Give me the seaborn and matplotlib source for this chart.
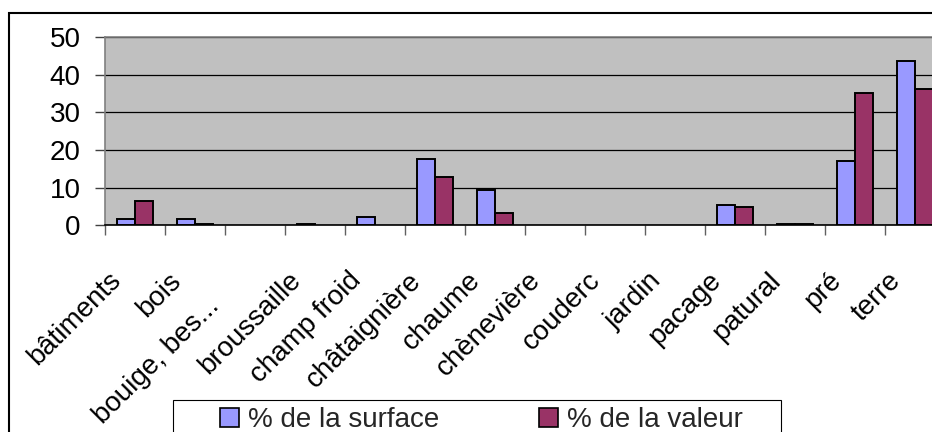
import matplotlib
matplotlib.use("Agg")
import matplotlib.pyplot as plt
import matplotlib.transforms as mtransforms
from matplotlib.patches import Patch, Rectangle
import pandas as pd
import seaborn as sns

categories = ["bâtiments", "bois", "bouige, bes...", "broussaille", "champ froid",
              "châtaignière", "chaume", "chènevière", "couderc", "jardin",
              "pacage", "patural", "pré", "terre"]
surface = [1.6, 1.6, 0.0, 0.4, 2.3, 17.5, 9.5, 0.0, 0.0, 0.0, 5.4, 0.4, 17.0, 43.5]
valeur = [6.5, 0.4, 0.0, 0.0, 0.0, 12.7, 3.3, 0.0, 0.0, 0.0, 4.8, 0.4, 35.0, 36.3]
series = ["% de la surface", "% de la valeur"]
colors = ["#9999FF", "#993366"]
y_ticks = [0, 10, 20, 30, 40, 50]

df = pd.DataFrame({
    "categorie": categories * 2,
    "pourcentage": surface + valeur,
    "serie": [series[0]] * len(categories) + [series[1]] * len(categories),
})

sns.set_theme(style="white")
plt.rcParams["font.family"] = ["Liberation Sans", "DejaVu Sans"]
FS = 20

W, H = 932, 432
fig = plt.figure(figsize=(W / 100, H / 100), dpi=100)
fig.patch.set_facecolor("white")

# plot area in pixel units, converted to figure fractions
left, top, bottom = 105, 37, 225.3
cat_w = 60
ax = fig.add_axes([left / W, 1 - bottom / H, cat_w * len(categories) / W, (bottom - top) / H])
ax.set_facecolor("#C0C0C0")

sns.barplot(data=df, x="categorie", y="pourcentage", hue="serie",
            order=categories, hue_order=series, palette=colors,
            width=0.6, edgecolor="black", linewidth=1.4, saturation=1,
            legend=False, ax=ax, zorder=3)

for p in ax.patches:
    if p.get_height() == 0:
        p.set_visible(False)

ax.set_xlim(-0.5, len(categories) - 0.5)
ax.set_ylim(0, 50)
ax.set_yticks(y_ticks)
ax.set_xlabel("")
ax.set_ylabel("")

# horizontal grid lines
ax.yaxis.grid(True, color="black", linewidth=0.9, zorder=1)
ax.set_axisbelow(True)

for side in ["top", "left", "right"]:
    ax.spines[side].set_color("#808080")
    ax.spines[side].set_linewidth(1.2)
ax.spines["bottom"].set_color("black")
ax.spines["bottom"].set_linewidth(1.2)

ax.tick_params(axis="y", direction="out", length=7.2, width=1, color="#404040",
               pad=10.5, labelsize=FS, labelcolor="black", left=True)

# category boundary ticks on the x axis
ax.set_xticks([i - 0.5 for i in range(len(categories) + 1)], minor=True)
ax.tick_params(axis="x", which="minor", direction="out", length=7.2, width=1,
               color="#606060", bottom=True)
ax.tick_params(axis="x", which="major", length=0, pad=37, labelsize=FS,
               labelcolor="black")
ax.set_xticks(range(len(categories)))
ax.set_xticklabels(categories)
for i, lab in enumerate(ax.get_xticklabels()):
    lab.set_rotation(45)
    lab.set_ha("right")
    lab.set_va("center")
    lab.set_rotation_mode("anchor")
    dx, dy = -18, 0
    if lab.get_text().startswith("bouige"):
        dx, dy = -40, -26
    offset = mtransforms.ScaledTranslation(dx / 100, dy / 100, fig.dpi_scale_trans)
    lab.set_transform(lab.get_transform() + offset)

# outer chart frame
fig.patches.append(Rectangle((9 / W, -0.1), 1.2, 1 - 13 / H + 0.1,
                             transform=fig.transFigure, fill=False,
                             edgecolor="black", linewidth=1.5, zorder=0))

# legend box
fig.patches.append(Rectangle((173 / W, 1 - 440 / H), (781 - 173) / W, 40 / H,
                             transform=fig.transFigure, facecolor="white",
                             edgecolor="black", linewidth=0.8, zorder=1))
handles = [Patch(facecolor=c, edgecolor="black", linewidth=1.2) for c in colors]
leg = fig.legend(handles, series, loc="center left",
                 bbox_to_anchor=(220 / W, 1 - 420 / H), bbox_transform=fig.transFigure,
                 ncol=2, frameon=False, fontsize=FS, borderpad=0, borderaxespad=0,
                 handlelength=0.7, handleheight=0.7, handletextpad=0.3,
                 columnspacing=3.6)
leg.set_zorder(2)

fig.savefig("out.png", dpi=100, facecolor="white")
